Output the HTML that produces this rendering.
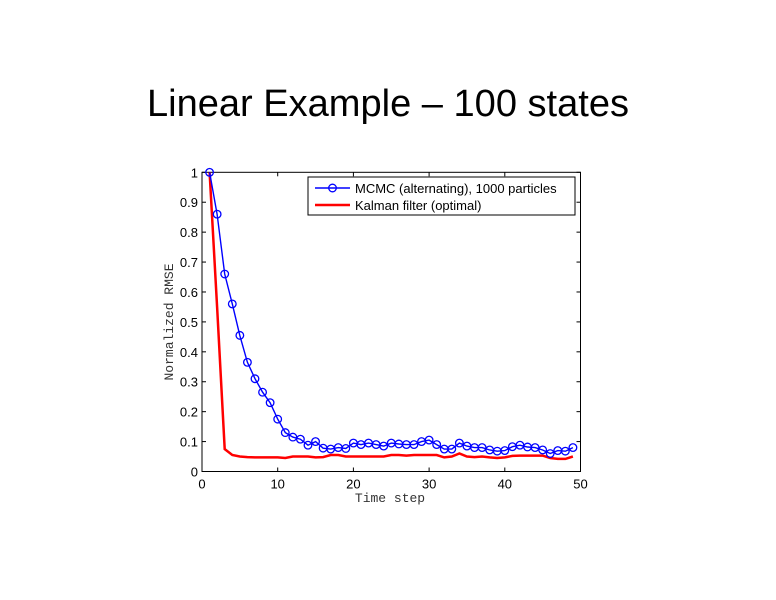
<!DOCTYPE html>
<html><head><style>body{margin:0;background:#fff}svg{display:block}</style></head><body>
<svg id="s" width="776" height="600" xmlns="http://www.w3.org/2000/svg">
<rect width="776" height="600" fill="#fff"/>
<text x="388" y="116" text-anchor="middle" font-family="Liberation Sans, sans-serif" font-size="38" textLength="482" lengthAdjust="spacingAndGlyphs">Linear Example – 100 states</text>
<g id="g" font-family="Liberation Sans, sans-serif" font-size="13"></g>
</svg>
<script>
var g=document.getElementById('g'),h='';
var L=202,R=580.5,T=172.3,B=471.5;
function X(v){return L+(R-L)*v/50}function Y(v){return B-(B-T)*v}
h+='<rect x="'+L+'" y="'+T+'" width="'+(R-L)+'" height="'+(B-T)+'" fill="none" stroke="#000" stroke-width="1"/>';
for(var i=0;i<=5;i++){var x=X(i*10);h+='<line x1="'+x+'" y1="'+B+'" x2="'+x+'" y2="'+(B-4)+'" stroke="#000"/><line x1="'+x+'" y1="'+T+'" x2="'+x+'" y2="'+(T+4)+'" stroke="#000"/><text x="'+x+'" y="'+(B+17)+'" text-anchor="middle">'+(i*10)+'</text>';}
for(var i=0;i<=10;i++){var y=Y(i/10);h+='<line x1="'+L+'" y1="'+y+'" x2="'+(L+4)+'" y2="'+y+'" stroke="#000"/><line x1="'+R+'" y1="'+y+'" x2="'+(R-4)+'" y2="'+y+'" stroke="#000"/><text x="'+(L-4)+'" y="'+(y+5)+'" text-anchor="end">'+(i==0?'0':i==10?'1':(i/10).toString())+'</text>';}
h+='<text x="390" y="502" text-anchor="middle" font-family="Liberation Mono, monospace" font-size="13" fill="#333">Time step</text>';
h+='<text transform="translate(173,322) rotate(-90)" text-anchor="middle" font-family="Liberation Mono, monospace" font-size="13" fill="#333">Normalized RMSE</text>';
var m=[1.0,.86,.66,.56,.455,.365,.31,.265,.23,.175,.13,.115,.108,.088,.1,.078,.075,.08,.077,.095,.09,.095,.09,.085,.095,.092,.09,.09,.1,.105,.09,.075,.075,.095,.085,.08,.08,.072,.068,.07,.083,.088,.082,.08,.072,.06,.07,.068,.08];
var k=[1.0,.55,.075,.055,.05,.048,.047,.047,.047,.047,.045,.05,.05,.05,.047,.048,.055,.055,.05,.05,.05,.05,.05,.05,.055,.055,.053,.055,.055,.055,.055,.047,.05,.06,.05,.048,.05,.047,.045,.047,.052,.053,.053,.053,.053,.045,.042,.042,.05,.045];
function pts(a){return a.map(function(v,i){return X(i+1).toFixed(1)+','+Y(v).toFixed(1)}).join(' ')}
h+='<polyline points="'+pts(k.slice(0,49))+'" fill="none" stroke="#f00" stroke-width="2.5"/>';
h+='<polyline points="'+pts(m)+'" fill="none" stroke="#0000ff" stroke-width="1.4"/>';
m.forEach(function(v,i){h+='<circle cx="'+X(i+1)+'" cy="'+Y(v)+'" r="3.8" fill="none" stroke="#0000ff" stroke-width="1.3"/>'});
h+='<rect x="308" y="177" width="267" height="38" fill="#fff" stroke="#000"/>';
h+='<line x1="315" y1="188" x2="350" y2="188" stroke="#00f" stroke-width="1.4"/><circle cx="332.5" cy="188" r="3.8" fill="none" stroke="#00f" stroke-width="1.3"/><text x="355" y="193">MCMC (alternating), 1000 particles</text>';
h+='<line x1="315" y1="205" x2="350" y2="205" stroke="#f00" stroke-width="2.5"/><text x="355" y="210">Kalman filter (optimal)</text>';
g.innerHTML=h;
</script>
</body></html>
